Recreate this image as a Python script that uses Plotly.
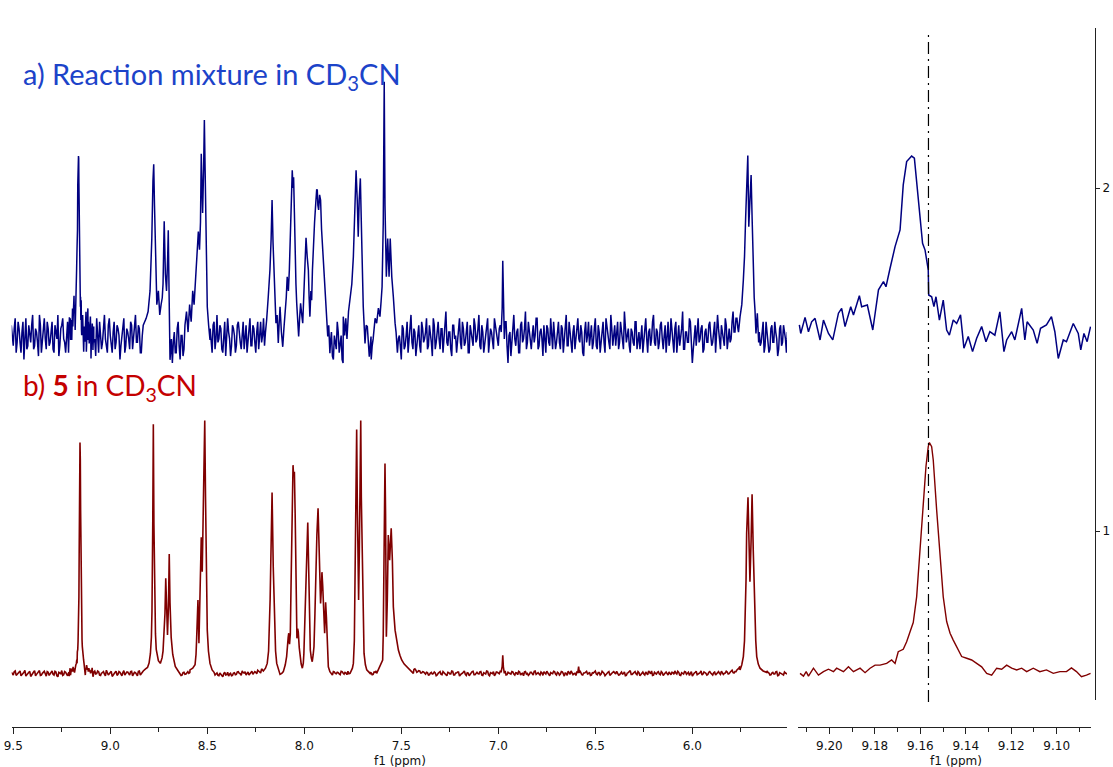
import plotly.graph_objects as go

# ---------------- data (ppm, intensity on the right-hand scale) ----------------
GRID_START = 9.51        # baseline samples at 9.51, 9.50, ... 5.51
GRID_STEP = 0.01
MID_START = 9.505        # extra baseline samples at 9.505, 9.495, ... 5.515

blue_baseline = [
    1.60,1.54,1.62,1.55,1.59,1.52,1.61,1.57,1.53,1.60,1.55,1.63,1.54,1.58,1.51,1.60,1.56,1.62,1.53,1.59,
    1.55,1.61,1.52,1.58,1.63,1.54,1.60,1.56,1.52,1.61,1.57,1.64,1.53,1.59,1.55,1.62,1.51,1.58,1.60,1.54,
    1.59,1.53,1.61,1.56,1.62,1.52,1.58,1.55,1.63,1.54,1.60,1.57,1.52,1.61,1.55,1.59,1.50,1.57,1.62,1.54,
    1.58,1.53,1.60,1.56,1.63,1.55,1.59,1.52,1.61,1.58,1.62,1.57,1.64,1.60,1.66,1.62,1.65,1.70,1.75,1.80,
    1.60,1.50,1.56,1.49,1.58,1.52,1.61,1.50,1.57,1.53,1.59,1.51,1.62,1.55,1.60,1.58,1.65,1.62,1.70,1.80,
    1.60,1.56,1.62,1.55,1.60,1.53,1.63,1.56,1.59,1.52,1.61,1.55,1.58,1.51,1.60,1.57,1.54,1.61,1.55,1.59,
    1.53,1.60,1.56,1.62,1.54,1.59,1.52,1.61,1.57,1.55,1.62,1.58,1.60,1.66,1.72,1.80,1.70,1.62,1.58,1.64,
    1.60,1.65,1.70,1.75,1.80,1.90,1.85,1.70,1.62,1.65,1.70,1.75,1.72,1.80,1.85,1.95,1.98,1.90,1.85,1.80,
    1.78,1.70,1.62,1.57,1.52,1.58,1.50,1.55,1.61,1.52,1.57,1.49,1.56,1.60,1.53,1.58,1.62,1.66,1.80,1.95,
    1.90,1.65,1.55,1.60,1.52,1.58,1.54,1.62,1.60,1.65,1.75,2.00,1.80,1.85,1.80,1.70,1.62,1.55,1.60,1.52,
    1.57,1.50,1.59,1.54,1.61,1.56,1.63,1.53,1.58,1.55,1.60,1.52,1.59,1.56,1.62,1.54,1.58,1.51,1.60,1.55,
    1.61,1.53,1.59,1.56,1.64,1.54,1.58,1.51,1.60,1.57,1.55,1.62,1.53,1.59,1.55,1.61,1.52,1.58,1.54,1.60,
    1.56,1.63,1.53,1.58,1.55,1.61,1.52,1.59,1.55,1.62,1.57,1.54,1.60,1.56,1.53,1.61,1.49,1.58,1.55,1.63,
    1.54,1.59,1.52,1.61,1.56,1.64,1.55,1.58,1.53,1.60,1.57,1.62,1.54,1.59,1.51,1.57,1.60,1.55,1.62,1.53,
    1.58,1.55,1.61,1.53,1.59,1.56,1.63,1.54,1.57,1.52,1.60,1.56,1.62,1.55,1.58,1.51,1.61,1.57,1.54,1.60,
    1.55,1.62,1.53,1.58,1.56,1.61,1.52,1.59,1.55,1.63,1.54,1.60,1.57,1.53,1.61,1.56,1.64,1.55,1.59,1.52,
    1.58,1.54,1.61,1.56,1.53,1.60,1.55,1.62,1.52,1.59,1.56,1.63,1.54,1.58,1.55,1.61,1.53,1.60,1.57,1.54,
    1.62,1.55,1.59,1.52,1.60,1.56,1.64,1.53,1.58,1.55,1.61,1.49,1.57,1.54,1.62,1.56,1.60,1.53,1.59,1.55,
    1.61,1.54,1.58,1.52,1.63,1.56,1.60,1.55,1.62,1.53,1.59,1.56,1.64,1.58,1.62,1.60,1.66,1.70,1.80,1.95,
    2.00,1.80,1.70,1.62,1.55,1.60,1.54,1.58,1.52,1.61,1.56,1.53,1.60,1.55,1.58,1.51,1.59,1.54,1.60,1.56,
    1.58,
]
blue_baseline_mid = [
    1.56,1.59,1.52,1.61,1.55,1.58,1.50,1.62,1.54,1.57,1.60,1.53,1.59,1.55,1.63,1.52,1.58,1.56,1.61,1.54,
    1.58,1.53,1.60,1.56,1.51,1.59,1.62,1.55,1.57,1.52,1.60,1.54,1.58,1.61,1.53,1.56,1.59,1.52,1.63,1.57,
    1.54,1.60,1.55,1.51,1.58,1.61,1.53,1.59,1.56,1.52,1.62,1.55,1.58,1.53,1.60,1.57,1.54,1.61,1.52,1.59,
    1.56,1.61,1.53,1.58,1.55,1.60,1.52,1.57,1.62,1.54,1.59,1.56,1.61,1.55,1.60,1.58,1.62,1.57,1.60,1.55,
    1.53,1.56,1.50,1.55,1.52,1.59,1.54,1.57,1.51,1.60,1.55,1.58,1.53,1.61,1.57,1.60,1.56,1.62,1.58,1.61,
    1.57,1.53,1.59,1.52,1.61,1.56,1.55,1.60,1.53,1.58,1.51,1.62,1.56,1.54,1.59,1.52,1.60,1.57,1.53,1.61,
    1.56,1.52,1.59,1.54,1.60,1.55,1.58,1.53,1.61,1.57,1.54,1.60,1.56,1.62,1.58,1.61,1.57,1.60,1.55,1.59,
    1.57,1.61,1.55,1.60,1.56,1.62,1.58,1.55,1.60,1.57,1.61,1.56,1.59,1.55,1.60,1.57,1.62,1.58,1.56,1.60,
    1.55,1.59,1.53,1.60,1.55,1.51,1.57,1.53,1.58,1.55,1.50,1.59,1.54,1.57,1.61,1.55,1.59,1.56,1.60,1.57,
    1.58,1.55,1.61,1.53,1.57,1.50,1.56,1.59,1.55,1.60,1.57,1.61,1.56,1.59,1.55,1.60,1.54,1.58,1.53,1.56,
    1.54,1.60,1.53,1.57,1.52,1.62,1.55,1.59,1.51,1.57,1.54,1.61,1.55,1.58,1.53,1.60,1.55,1.62,1.53,1.58,
    1.56,1.59,1.52,1.61,1.55,1.58,1.53,1.60,1.56,1.52,1.59,1.55,1.61,1.54,1.58,1.52,1.60,1.56,1.62,1.55,
    1.59,1.54,1.60,1.52,1.57,1.62,1.55,1.58,1.53,1.60,1.55,1.59,1.52,1.58,1.61,1.54,1.57,1.51,1.60,1.56,
    1.58,1.52,1.60,1.55,1.59,1.53,1.61,1.54,1.57,1.55,1.62,1.53,1.58,1.56,1.60,1.52,1.59,1.54,1.57,1.61,
    1.53,1.59,1.55,1.60,1.52,1.57,1.54,1.61,1.55,1.58,1.53,1.59,1.56,1.60,1.52,1.58,1.55,1.61,1.57,1.53,
    1.59,1.54,1.60,1.52,1.58,1.55,1.62,1.56,1.53,1.59,1.57,1.54,1.61,1.55,1.58,1.53,1.60,1.57,1.54,1.59,
    1.55,1.61,1.53,1.58,1.57,1.52,1.60,1.56,1.58,1.54,1.61,1.55,1.59,1.53,1.60,1.56,1.57,1.52,1.61,1.56,
    1.58,1.52,1.61,1.56,1.54,1.59,1.53,1.58,1.55,1.62,1.56,1.53,1.60,1.57,1.55,1.59,1.52,1.58,1.55,1.60,
    1.57,1.55,1.61,1.56,1.59,1.53,1.58,1.54,1.60,1.57,1.55,1.61,1.58,1.62,1.59,1.60,1.58,1.62,1.60,1.58,
    1.60,1.57,1.54,1.59,1.53,1.58,1.55,1.61,1.54,1.57,1.52,1.59,1.55,1.61,1.56,1.53,1.60,1.55,1.58,1.52,
]

red_baseline = [
    .588,.580,.592,.583,.590,.578,.586,.594,.581,.589,.576,.587,.593,.582,.590,.579,.585,.591,.577,.588,
    .584,.592,.580,.589,.575,.586,.593,.581,.588,.578,.590,.583,.595,.580,.587,.591,.579,.586,.582,.590,
    .581,.588,.577,.592,.584,.590,.579,.587,.583,.594,.580,.589,.576,.586,.591,.582,.588,.578,.593,.585,
    .589,.580,.591,.583,.587,.578,.592,.585,.581,.590,.584,.593,.588,.596,.600,.605,.615,.630,.660,.700,
    .700,.650,.620,.600,.590,.582,.578,.585,.580,.588,.583,.590,.587,.593,.590,.598,.610,.650,.800,.950,
    1.00,.700,.620,.600,.592,.580,.586,.578,.583,.575,.588,.581,.577,.585,.579,.587,.582,.590,.584,.592,
    .586,.580,.589,.583,.591,.585,.588,.594,.590,.598,.600,.610,.640,.800,.700,.610,.590,.582,.587,.580,
    .585,.600,.640,.700,.900,1.00,.700,.640,.620,.700,.900,.700,.620,.650,.850,1.00,.850,.750,.700,.650,
    .620,.600,.585,.580,.587,.582,.590,.585,.588,.583,.591,.586,.588,.581,.584,.700,1.00,1.00,.800,1.00,
    1.20,.700,.620,.600,.590,.587,.581,.589,.592,1.10,.900,.950,.800,.700,.680,.660,.640,.630,.620,.610,
    .615,.608,.612,.602,.605,.596,.600,.594,.598,.588,.593,.586,.590,.584,.588,.580,.586,.583,.589,.578,
    .585,.590,.581,.587,.579,.588,.583,.592,.580,.586,.589,.577,.584,.590,.582,.587,.578,.585,.591,.581,
    .588,.583,.590,.579,.586,.592,.581,.587,.584,.578,.589,.585,.591,.582,.586,.580,.588,.584,.590,.583,
    .587,.581,.589,.584,.578,.590,.585,.582,.588,.580,.592,.586,.583,.589,.579,.586,.591,.582,.587,.584,
    .590,.580,.586,.583,.589,.577,.585,.591,.582,.588,.584,.579,.587,.593,.581,.586,.590,.583,.588,.580,
    .586,.592,.581,.587,.583,.589,.578,.585,.590,.582,.588,.584,.591,.580,.586,.583,.589,.579,.587,.593,
    .582,.588,.584,.590,.578,.586,.583,.589,.581,.587,.592,.580,.585,.588,.583,.590,.579,.586,.584,.589,
    .581,.587,.592,.583,.588,.579,.586,.590,.582,.588,.584,.577,.586,.591,.583,.587,.580,.589,.585,.582,
    .590,.583,.587,.580,.588,.585,.591,.582,.586,.589,.584,.592,.587,.590,.595,.600,.620,.650,.700,.900,
    1.00,.900,.700,.630,.605,.600,.592,.585,.590,.582,.588,.580,.586,.583,.589,.578,.587,.584,.580,.586,
    .583,
]
red_baseline_mid = [
    .583,.590,.579,.587,.592,.581,.588,.577,.585,.591,.582,.589,.578,.586,.593,.580,.587,.584,.590,.579,
    .587,.582,.591,.578,.588,.584,.579,.590,.583,.586,.592,.580,.587,.583,.589,.577,.585,.591,.581,.588,
    .585,.579,.589,.583,.592,.580,.586,.590,.578,.587,.584,.591,.581,.588,.579,.590,.583,.587,.580,.589,
    .584,.590,.578,.588,.582,.591,.580,.587,.593,.583,.589,.580,.591,.585,.590,.595,.600,.610,.620,.640,
    .640,.620,.605,.595,.586,.580,.584,.579,.587,.582,.589,.585,.591,.586,.594,.600,.620,.660,.720,.900,
    .700,.640,.610,.596,.585,.583,.579,.586,.577,.584,.580,.588,.583,.578,.586,.581,.589,.585,.579,.587,
    .590,.584,.580,.588,.582,.590,.584,.591,.586,.593,.600,.620,.660,.700,.650,.600,.585,.590,.583,.588,
    .590,.600,.650,.700,.800,.900,.700,.650,.640,.800,.800,.650,.640,.700,.900,.900,.800,.720,.680,.640,
    .610,.595,.588,.582,.586,.580,.589,.584,.587,.581,.590,.583,.586,.591,.584,.600,.900,.900,.900,.900,
    .900,.800,.700,.650,.620,.586,.582,.588,.583,.590,.900,.900,.800,.700,.680,.660,.640,.630,.620,.610,
    .640,.630,.620,.615,.608,.604,.600,.596,.594,.590,.592,.586,.589,.583,.587,.581,.588,.584,.586,.580,
    .588,.582,.590,.584,.578,.587,.583,.591,.580,.586,.589,.581,.585,.592,.579,.586,.583,.590,.581,.587,
    .584,.589,.580,.587,.583,.591,.578,.586,.590,.582,.588,.584,.579,.587,.592,.581,.586,.583,.589,.580,
    .586,.591,.580,.585,.589,.583,.579,.588,.584,.591,.582,.587,.580,.586,.590,.583,.588,.578,.585,.591,
    .583,.588,.580,.590,.584,.586,.579,.587,.592,.581,.585,.589,.582,.588,.580,.586,.591,.584,.579,.587,
    .589,.583,.587,.580,.591,.585,.582,.588,.579,.586,.590,.583,.587,.581,.589,.584,.578,.586,.591,.582,
    .585,.590,.581,.587,.583,.589,.580,.586,.592,.584,.579,.588,.583,.590,.581,.587,.584,.589,.580,.586,
    .588,.582,.586,.591,.580,.587,.583,.589,.585,.579,.590,.584,.588,.581,.586,.592,.583,.587,.580,.588,
    .586,.580,.589,.584,.590,.582,.587,.585,.591,.583,.588,.594,.586,.590,.597,.605,.630,.680,.800,1.00,
    .900,.800,.700,.640,.610,.600,.595,.590,.586,.592,.586,.581,.588,.583,.590,.579,.586,.582,.589,.584,
]

blue_peak_878 = [(8.830,1.60),(8.815,1.62),(8.805,1.64),(8.795,1.70),(8.786,1.85),(8.780,2.02),(8.776,2.069),
    (8.772,1.95),(8.766,1.75),(8.760,1.66),(8.752,1.70),(8.745,1.63),(8.738,1.66),(8.732,1.68),(8.728,1.72),
    (8.722,1.903),(8.716,1.75),(8.710,1.70),(8.704,1.80),(8.701,1.877),(8.697,1.70),(8.692,1.499),(8.685,1.56)]
blue_peak_853 = [(8.615,1.60),(8.607,1.64),(8.599,1.58),(8.591,1.66),(8.583,1.61),(8.575,1.70),(8.568,1.66),
    (8.560,1.75),(8.553,1.80),(8.546,1.873),(8.540,1.82),(8.535,1.90),(8.531,2.10),(8.527,1.95),(8.524,1.927),
    (8.519,2.05),(8.515,2.198),(8.511,2.05),(8.508,1.916),(8.504,1.75),(8.500,1.654),(8.493,1.60),(8.486,1.557)]
blue_peak_810 = [(8.194,1.615),(8.186,1.68),(8.177,1.761),(8.171,1.85),(8.166,1.965),(8.161,1.84),(8.156,1.741),
    (8.151,1.66),(8.146,1.606),(8.140,1.63),(8.134,1.548),(8.130,1.60),(8.125,1.654),(8.118,1.58),(8.111,1.537),
    (8.105,1.59),(8.099,1.625),(8.093,1.68),(8.088,1.741),(8.082,1.70),(8.077,1.761),(8.073,1.84),(8.069,1.916),
    (8.065,1.98),(8.062,2.052),(8.058,2.00),(8.055,2.031),(8.051,1.93),(8.048,1.829),(8.043,1.72),(8.039,1.664),
    (8.034,1.60),(8.029,1.567),(8.024,1.62),(8.019,1.664),(8.013,1.63),(8.008,1.606),(8.003,1.68),(7.998,1.741),
    (7.994,1.80),(7.991,1.855),(7.985,1.80),(7.979,1.761),(7.975,1.68),(7.971,1.625),(7.966,1.70),(7.962,1.673),
    (7.958,1.76),(7.954,1.829),(7.947,1.90),(7.941,1.955),(7.936,1.996),(7.933,1.994),(7.930,1.95),(7.926,1.936),
    (7.921,1.98),(7.916,1.965),(7.911,1.88),(7.905,1.819),(7.901,1.77),(7.897,1.741),(7.892,1.70),(7.888,1.664),
    (7.883,1.62),(7.879,1.567),(7.874,1.60),(7.868,1.518)]
blue_peak_773 = [(7.799,1.625),(7.792,1.57),(7.786,1.62),(7.780,1.56),(7.772,1.64),(7.764,1.683),(7.755,1.72),
    (7.747,1.80),(7.740,1.945),(7.733,2.052),(7.727,1.965),(7.722,1.858),(7.717,1.965),(7.711,2.028),(7.704,1.848),
    (7.696,1.654),(7.687,1.547),(7.681,1.60),(7.675,1.596),(7.670,1.54),(7.665,1.508),(7.656,1.567)]
blue_peak_758 = [(7.645,1.56),(7.635,1.62),(7.627,1.606),(7.618,1.65),(7.610,1.625),(7.604,1.67),(7.599,1.712),
    (7.593,1.897),(7.588,2.31),(7.584,1.95),(7.580,1.80),(7.577,1.741),(7.570,1.853),(7.563,1.741),(7.557,1.853),
    (7.549,1.741),(7.541,1.683),(7.536,1.63),(7.532,1.606),(7.527,1.58),(7.524,1.547)]
blue_peak_698 = [(6.985,1.58),(6.980,1.65),(6.977,1.788),(6.974,1.64),(6.969,1.56)]
blue_peak_571 = [(5.762,1.58),(5.754,1.625),(5.745,1.66),(5.737,1.732),(5.731,1.80),(5.725,1.916),(5.720,1.994),
    (5.714,2.095),(5.709,1.887),(5.703,1.965),(5.697,2.038),(5.692,1.916),(5.686,1.732),(5.681,1.68),(5.677,1.644),
    (5.672,1.576),(5.665,1.635),(5.658,1.55)]

red_peak_878 = [(8.830,0.592),(8.818,0.598),(8.808,0.602),(8.800,0.615),(8.793,0.643),(8.788,0.690),(8.785,0.767),
    (8.781,1.02),(8.778,1.311),(8.775,1.02),(8.771,0.767),(8.767,0.70),(8.763,0.655),(8.752,0.622),(8.742,0.614),
    (8.733,0.630),(8.728,0.650),(8.724,0.690),(8.718,0.760),(8.714,0.862),(8.710,0.760),(8.705,0.697),(8.700,0.780),
    (8.696,0.933),(8.692,0.790),(8.686,0.690),(8.678,0.640),(8.665,0.605),(8.650,0.592),(8.641,0.585)]
red_peak_853 = [(8.589,0.595),(8.575,0.600),(8.563,0.610),(8.558,0.640),(8.555,0.682),(8.548,0.799),(8.543,0.673),
    (8.539,0.78),(8.536,0.935),(8.531,0.982),(8.526,0.881),(8.521,1.052),(8.517,1.15),(8.513,1.322),(8.509,1.10),
    (8.505,0.85),(8.500,0.711),(8.494,0.650),(8.486,0.614),(8.475,0.595),(8.465,0.588)]
red_peak_810 = [(8.211,0.592),(8.200,0.600),(8.191,0.614),(8.184,0.650),(8.180,0.702),(8.176,0.80),(8.173,0.896),
    (8.166,1.112),(8.160,0.896),(8.156,0.78),(8.153,0.702),(8.148,0.650),(8.142,0.614),(8.132,0.592),(8.125,0.582),
    (8.116,0.585),(8.108,0.590),(8.098,0.610),(8.091,0.634),(8.083,0.690),(8.080,0.702),(8.076,0.670),(8.072,0.700),
    (8.068,0.85),(8.065,0.993),(8.061,1.12),(8.058,1.192),(8.055,1.16),(8.051,1.173),(8.047,1.05),(8.044,0.896),
    (8.040,0.74),(8.038,0.687),(8.034,0.715),(8.031,0.706),(8.026,0.66),(8.022,0.634),(8.016,0.612),(8.010,0.600),
    (8.005,0.615),(8.002,0.643),(7.997,0.72),(7.993,0.838),(7.987,0.93),(7.982,1.025),(7.978,0.90),(7.976,0.838),
    (7.972,0.72),(7.969,0.653),(7.964,0.630),(7.959,0.619),(7.954,0.640),(7.950,0.663),(7.945,0.76),(7.940,0.896),
    (7.935,0.99),(7.929,1.066),(7.923,0.945),(7.916,0.789),(7.912,0.83),(7.909,0.880),(7.905,0.84),(7.902,0.799),
    (7.898,0.74),(7.895,0.702),(7.892,0.75),(7.890,0.792),(7.886,0.75),(7.883,0.711),(7.879,0.650),(7.876,0.604),
    (7.868,0.590),(7.859,0.580)]
red_peak_773 = [(7.764,0.585),(7.752,0.600),(7.747,0.614),(7.742,0.680),(7.739,0.799),(7.736,0.95),(7.733,1.09),
    (7.730,1.296),(7.727,1.10),(7.725,1.042),(7.720,0.799),(7.716,0.95),(7.714,1.09),(7.709,1.322),(7.706,1.10),
    (7.704,1.042),(7.699,0.799),(7.695,0.70),(7.692,0.643),(7.685,0.610),(7.678,0.595),(7.661,0.585)]
red_peak_758 = [(7.627,0.585),(7.610,0.604),(7.600,0.615),(7.596,0.624),(7.593,0.70),(7.591,0.799),(7.588,1.09),
    (7.584,1.197),(7.581,1.05),(7.580,0.993),(7.577,0.692),(7.572,0.799),(7.567,0.988),(7.560,0.915),(7.552,1.008),
    (7.546,0.915),(7.541,0.779),(7.532,0.711),(7.524,0.680),(7.515,0.653),(7.507,0.638),(7.498,0.624),(7.485,0.612),
    (7.472,0.604),(7.455,0.594),(7.438,0.585)]
red_peak_698 = [(6.985,0.590),(6.980,0.605),(6.977,0.638),(6.974,0.605),(6.969,0.585)]
red_peak_659 = [(6.590,0.588),(6.586,0.605),(6.582,0.586)]
red_peak_571 = [(5.754,0.595),(5.745,0.610),(5.737,0.634),(5.731,0.68),(5.727,0.75),(5.723,0.86),(5.720,0.993),
    (5.713,1.098),(5.708,0.974),(5.703,0.852),(5.697,0.974),(5.692,1.107),(5.686,0.945),(5.682,0.84),(5.678,0.75),
    (5.673,0.68),(5.668,0.634),(5.660,0.612),(5.651,0.600),(5.635,0.592),(5.617,0.588)]

# expansion around 9.16 ppm (also used inside the full-range panel)
blue_zoom_ppm = [9.2132, 9.2126, 9.2107, 9.2092, 9.2078, 9.2063, 9.2041, 9.2026, 9.2004, 9.1985, 9.1960, 9.1946,
    9.1931, 9.1906, 9.1894, 9.1868, 9.1858, 9.1833, 9.1809, 9.1784, 9.1762, 9.1751, 9.1733, 9.1711, 9.1689, 9.1675,
    9.1660, 9.1638, 9.1626, 9.1616, 9.1604, 9.1590, 9.1579, 9.1565, 9.1563, 9.1550, 9.1540, 9.1531, 9.1516, 9.1499,
    9.1484, 9.1472, 9.1455, 9.1440, 9.1423, 9.1408, 9.1389, 9.1370, 9.1352, 9.1330, 9.1311, 9.1294, 9.1272, 9.1250,
    9.1232, 9.1220, 9.1198, 9.1184, 9.1154, 9.1140, 9.1130, 9.1103, 9.1086, 9.1071, 9.1045, 9.1023, 9.1008, 9.0993,
    9.0971, 9.0957, 9.0927, 9.0905, 9.0894, 9.0880, 9.0866, 9.0851]
blue_zoom_val = [1.601, 1.576, 1.623, 1.581, 1.610, 1.620, 1.557, 1.615, 1.576, 1.557, 1.635, 1.649,
    1.596, 1.654, 1.630, 1.686, 1.654, 1.659, 1.586, 1.703, 1.727, 1.712, 1.766, 1.829, 1.878, 2.009,
    2.077, 2.093, 2.087, 2.014, 1.936, 1.839, 1.819, 1.761, 1.688, 1.683, 1.654, 1.683, 1.615, 1.673,
    1.586, 1.571, 1.615, 1.605, 1.630, 1.533, 1.567, 1.523, 1.562, 1.596, 1.552, 1.581, 1.571, 1.639,
    1.523, 1.557, 1.581, 1.557, 1.649, 1.557, 1.610, 1.586, 1.547, 1.591, 1.601, 1.625, 1.581, 1.503,
    1.557, 1.552, 1.605, 1.576, 1.528, 1.576, 1.552, 1.596]
red_zoom_ppm = [9.2129, 9.2114, 9.2102, 9.2092, 9.2070, 9.2048, 9.2026, 9.2004, 9.1982, 9.1968,
    9.1938, 9.1916, 9.1894, 9.1865, 9.1843, 9.1821, 9.1799, 9.1777, 9.1748, 9.1726,
    9.1711, 9.1697, 9.1675, 9.1660, 9.1645, 9.1631, 9.1616, 9.1601, 9.1587, 9.1575,
    9.1565, 9.1560, 9.1550, 9.1543, 9.1528, 9.1513, 9.1499, 9.1484, 9.1469, 9.1455,
    9.1440, 9.1418, 9.1396, 9.1374, 9.1352, 9.1330, 9.1308, 9.1286, 9.1264, 9.1242,
    9.1220, 9.1198, 9.1176, 9.1154, 9.1132, 9.1103, 9.1074, 9.1045, 9.1015, 9.0986,
    9.0957, 9.0935, 9.0913, 9.0891, 9.0869, 9.0851]
red_zoom_val = [0.585, 0.577, 0.590, 0.577, 0.600, 0.580, 0.590, 0.597, 0.590, 0.600,
    0.590, 0.604, 0.590, 0.600, 0.587, 0.600, 0.609, 0.609, 0.614, 0.624,
    0.614, 0.648, 0.655, 0.677, 0.706, 0.733, 0.808, 0.945, 1.061, 1.188,
    1.246, 1.258, 1.246, 1.207, 1.061, 0.925, 0.808, 0.736, 0.702, 0.682,
    0.663, 0.634, 0.629, 0.624, 0.614, 0.604, 0.585, 0.580, 0.600, 0.597,
    0.609, 0.600, 0.595, 0.600, 0.590, 0.600, 0.590, 0.595, 0.585, 0.590,
    0.590, 0.601, 0.590, 0.575, 0.580, 0.585]

reference_shift = 9.1564
left_ticks = [9.5, 9.0, 8.5, 8.0, 7.5, 7.0, 6.5, 6.0]
right_ticks = [9.20, 9.18, 9.16, 9.14, 9.12, 9.10]
intensity_ticks = [1, 2]

label_a = "a) Reaction mixture in CD<sub>3</sub>CN"
label_b = "b) <b>5</b> in CD<sub>3</sub>CN"
axis_title = "f1 (ppm)"

BLUE = "#000080"
RED = "#800000"
TXT_BLUE = "#1c43c9"
TXT_RED = "#c40000"


def build(baseline, baseline_mid, groups):
    groups = [list(g) for g in groups]
    windows = [(min(p for p, _ in g), max(p for p, _ in g)) for g in groups]
    pts = []
    samples = [(round(GRID_START - i * GRID_STEP, 3), v) for i, v in enumerate(baseline)]
    samples += [(round(MID_START - i * GRID_STEP, 3), v) for i, v in enumerate(baseline_mid)]
    for x, v in samples:
        if any(lo <= x <= hi for lo, hi in windows):
            continue
        pts.append((x, v))
    for g in groups:
        pts.extend(g)
    pts.sort(key=lambda t: -t[0])
    return [p for p, _ in pts], [v for _, v in pts]


blue_zoom = list(zip(blue_zoom_ppm, blue_zoom_val))
red_zoom = list(zip(red_zoom_ppm, red_zoom_val))
bx, by = build(blue_baseline, blue_baseline_mid,
               [blue_zoom, blue_peak_878, blue_peak_853, blue_peak_810, blue_peak_773,
                blue_peak_758, blue_peak_698, blue_peak_571])
rx, ry = build(red_baseline, red_baseline_mid,
               [red_zoom, red_peak_878, red_peak_853, red_peak_810, red_peak_773,
                red_peak_758, red_peak_698, red_peak_659, red_peak_571])

fig = go.Figure()
fig.add_trace(go.Scatter(x=bx, y=by, xaxis="x", yaxis="y", mode="lines",
                         line=dict(color=BLUE, width=1.5), hoverinfo="skip"))
fig.add_trace(go.Scatter(x=rx, y=ry, xaxis="x", yaxis="y", mode="lines",
                         line=dict(color=RED, width=1.6), hoverinfo="skip"))
fig.add_trace(go.Scatter(x=blue_zoom_ppm, y=blue_zoom_val, xaxis="x2", yaxis="y", mode="lines",
                         line=dict(color=BLUE, width=1.5), hoverinfo="skip"))
fig.add_trace(go.Scatter(x=red_zoom_ppm, y=red_zoom_val, xaxis="x2", yaxis="y", mode="lines",
                         line=dict(color=RED, width=1.4), hoverinfo="skip"))

W, H = 1113, 767
AX = "#222222"
tickfont = dict(family="DejaVu Sans", size=12, color="#111111")
common_x = dict(anchor="free", position=1 - 726.7 / H, showline=True, linecolor=AX, linewidth=1,
                ticks="outside", ticklen=6, tickcolor=AX, tickwidth=1, showgrid=False, zeroline=False,
                tickfont=tickfont, automargin=False, tickmode="array", ticklabelstandoff=2)

fig.update_layout(
    template="none",
    width=W, height=H,
    margin=dict(l=0, r=0, t=0, b=0),
    paper_bgcolor="white", plot_bgcolor="white",
    showlegend=False,
    xaxis=dict(domain=[11.7 / W, 787 / W], range=[9.508, 5.512],
               tickvals=left_ticks, ticktext=[f"{t:.1f}" for t in left_ticks],
               minor=dict(dtick=0.25, tick0=0, ticks="outside", ticklen=4, tickcolor=AX),
               **common_x),
    xaxis2=dict(domain=[798 / W, 1091 / W], range=[9.2138, 9.0849],
                tickvals=right_ticks, ticktext=[f"{t:.2f}" for t in right_ticks],
                minor=dict(dtick=0.01, tick0=0, ticks="outside", ticklen=4, tickcolor=AX),
                **common_x),
    yaxis=dict(domain=[1 - 700 / H, 1 - 28 / H], range=[0.5073, 2.4665], anchor="free",
               position=1095 / W, side="right", showline=True, linecolor=AX, linewidth=1,
               ticks="outside", ticklen=4, tickcolor=AX, tickmode="array", tickvals=intensity_ticks,
               ticktext=[str(t) for t in intensity_ticks], showgrid=False, zeroline=False,
               tickfont=tickfont, automargin=False),
    shapes=[dict(type="line", xref="x2", yref="paper", x0=reference_shift, x1=reference_shift,
                 y0=1 - 702 / H, y1=1 - 35 / H,
                 line=dict(color="black", width=1.2, dash="12px,5px,2px,5px"))],
    annotations=[
        dict(text=label_a, xref="paper", yref="paper", x=21 / W, y=1 - 75 / H, xanchor="left",
             yanchor="middle", showarrow=False, font=dict(family="Lato", size=29, color=TXT_BLUE)),
        dict(text=label_b, xref="paper", yref="paper", x=21 / W, y=1 - 387 / H, xanchor="left",
             yanchor="middle", showarrow=False, font=dict(family="Lato", size=28, color=TXT_RED)),
        dict(text=axis_title, xref="paper", yref="paper", x=400 / W, y=1 - 761 / H, xanchor="center",
             yanchor="middle", showarrow=False, font=tickfont),
        dict(text=axis_title, xref="paper", yref="paper", x=956 / W, y=1 - 761 / H, xanchor="center",
             yanchor="middle", showarrow=False, font=tickfont),
    ],
)

fig.write_html("out.html")
